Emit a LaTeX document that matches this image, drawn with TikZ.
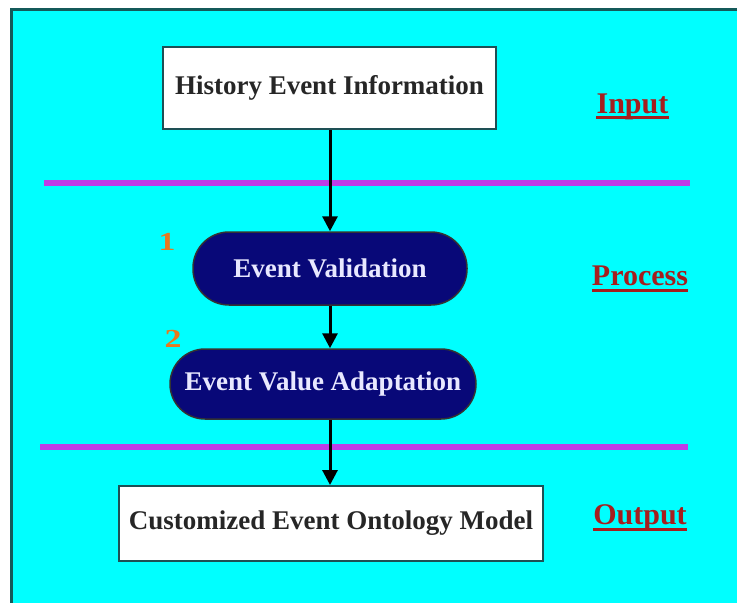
\documentclass[tikz,border=0pt]{standalone}
\usepackage{fontspec}
\setmainfont{Liberation Serif}
\usetikzlibrary{arrows.meta}
\definecolor{bgcyan}{RGB}{0,255,255}
\definecolor{frameteal}{RGB}{20,90,90}
\definecolor{boxedge}{RGB}{30,80,85}
\definecolor{navy}{RGB}{8,8,120}
\definecolor{pilltext}{RGB}{232,232,255}
\definecolor{sepline}{RGB}{190,60,230}
\definecolor{labred}{RGB}{165,30,30}
\definecolor{numorange}{RGB}{232,120,30}
\tikzset{
  whitebox/.style={draw=boxedge, line width=2pt, fill=white, inner sep=0pt,
    font=\fontsize{27}{31}\selectfont\bfseries, text=black!85},
  pill/.style={draw=black!80, line width=1.5pt, fill=navy, inner sep=0pt,
    font=\fontsize{27}{31}\selectfont\bfseries, text=pilltext},
  flow/.style={line width=3pt, -{Triangle[width=15pt,length=15pt]}},
  sep/.style={draw=sepline, line width=6pt},
  stage/.style={inner sep=0pt, anchor=base, text=labred,
    font=\fontsize{30}{34}\selectfont\bfseries},
  stageline/.style={draw=labred, line width=3pt},
  num/.style={inner sep=0pt, text=numorange, xscale=1.3, font=\fontsize{26}{30}\selectfont\bfseries}
}
\begin{document}
\begin{tikzpicture}[x=1pt,y=-1pt]
\useasboundingbox (0,0) rectangle (737,603);
\begin{scope}
\clip (0,0) rectangle (737,603);
\draw[fill=bgcyan, draw=frameteal, line width=3pt] (11.5,9.5) rectangle (760,630);
\end{scope}

% separator lines
\draw[sep] (44,183) -- (690,183);
\draw[sep] (40,447) -- (688,447);

% nodes
\node[whitebox, minimum width=333pt, minimum height=82pt] (hist) at (329.5,88) {History Event Information};
\node[pill, rounded corners=36pt, minimum width=274pt, minimum height=73pt] (val) at (330,268.5) {Event Validation};
\node[pill, rounded corners=35pt, minimum width=306pt, minimum height=70pt] (ada) at (323,384) {Event Value Adaptation};
\node[whitebox, minimum width=424pt, minimum height=75pt] (cust) at (331,523.5) {Customized Event Ontology Model};

% step numbers
\node[num] (n1) at (167,242) {1};
\node[num] (n2) at (173,339) {2};

% stage labels
\node[stage] (inp) at (632.5,113) {Input};
\node[stage] (proc) at (640,285) {Process};
\node[stage] (outp) at (640,524) {Output};
\draw[stageline] ([yshift=-4pt]inp.base west) -- ([yshift=-4pt]inp.base east);
\draw[stageline] ([yshift=-5pt]proc.base west) -- ([yshift=-5pt]proc.base east);
\draw[stageline] ([yshift=-5pt]outp.base west) -- ([yshift=-5pt]outp.base east);

% connectors
\draw[flow] (hist.south -| val) -- (val.north);
\draw[flow] (val.south) -- (val.south |- ada.north);
\draw[flow] (val.south |- ada.south) -- (val.south |- cust.north);
\end{tikzpicture}
\end{document}
